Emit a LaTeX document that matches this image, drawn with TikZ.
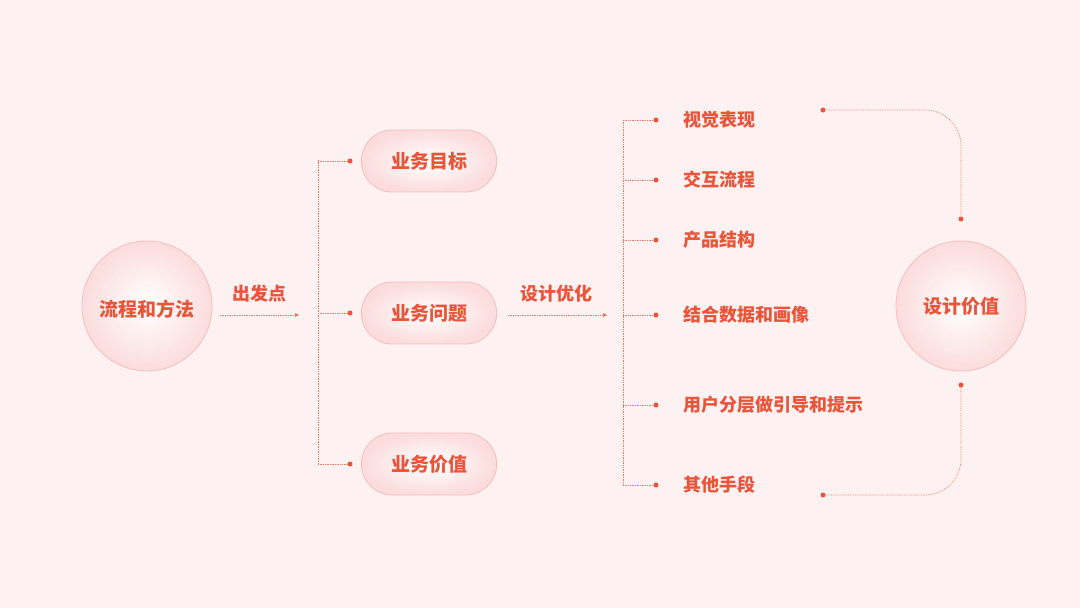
\documentclass[tikz,border=0pt]{standalone}
\usepackage{fontspec}
\newfontfamily\cjk{Noto Sans CJK SC}
\usetikzlibrary{arrows.meta,shapes.misc}
\definecolor{bg}{HTML}{FDF1F1}
\definecolor{acc}{HTML}{E8553A}
\definecolor{rim}{HTML}{F5BDBD}
\definecolor{inner}{HTML}{FCDCDC}
\tikzset{x=1pt,y=1pt,
 bubble/.style={circle,minimum size=130pt,draw=rim,line width=0.8pt,inner color=white,outer color=inner},
 pill/.style={rounded rectangle,minimum width=142pt,minimum height=62pt,draw=rim,line width=0.8pt,inner color=white,outer color=inner},
 txt/.style={text=acc,font=\cjk\bfseries\fontsize{18}{20}\selectfont},
 btxt/.style={text=acc,font=\cjk\bfseries\fontsize{19}{21}\selectfont},
 dotl/.style={acc!80,densely dotted,line width=0.7pt},
 dot/.style={circle,fill=acc,inner sep=0pt,minimum size=5pt}}
\begin{document}
\begin{tikzpicture}
\fill[bg] (0,0) rectangle (1080,-608);
\useasboundingbox (0,0) rectangle (1080,-608);
\node[bubble] (L) at (147,-306) {};
\node[btxt] at (147,-309) {流程和方法};
\node[bubble] (R) at (961,-306) {};
\node[btxt] at (961,-306) {设计价值};
\node[txt] (cf) at (259,-294) {出发点};
\node[txt] (sj) at (556,-294) {设计优化};
\coordinate (a1) at (220,-315); \coordinate (a2) at (299,-315);
\draw[dotl,-{Triangle[length=4pt,width=4pt]}] (a1) -- (a2);
\coordinate (b1) at (508,-315); \coordinate (b2) at (607,-315);
\draw[dotl,-{Triangle[length=4pt,width=4pt]}] (b1) -- (b2);
\coordinate (v1) at (318,-160); \coordinate (v2) at (318,-464);
\draw[dotl] (v1) -- (v2);
\foreach \y/\t [count=\i] in {161/业务目标,313/业务问题,464/业务价值}{
  \node[pill] (p\i) at (429,-\y) {};
  \node[btxt] at (429,-\y) {\t};
  \node[dot] (d\i) at (350,-\y) {};
  \coordinate (h\i) at (318,-\y);
  \draw[dotl] (h\i) -- (d\i);
}
\coordinate (w1) at (623,-120); \coordinate (w2) at (623,-485);
\draw[dotl] (w1) -- (w2);
\foreach \y/\t [count=\i] in {120/视觉表现,180/交互流程,240/产品结构,315/结合数据和画像,405/用户分层做引导和提示,485/其他手段}{
  \node[dot] (e\i) at (656,-\y) {};
  \coordinate (g\i) at (623,-\y);
  \draw[dotl] (g\i) -- (e\i);
  \node[txt,anchor=west] at (680,-\y) {\t};
}
\node[dot] (t1) at (823,-110) {};
\node[dot] (t2) at (961,-219) {};
\draw[dotl,rounded corners=36pt] (t1) -- (961,-110) -- (t2);
\node[dot] (u1) at (961,-385) {};
\node[dot] (u2) at (823,-495) {};
\draw[dotl,rounded corners=36pt] (u1) -- (961,-495) -- (u2);
\end{tikzpicture}
\end{document}
